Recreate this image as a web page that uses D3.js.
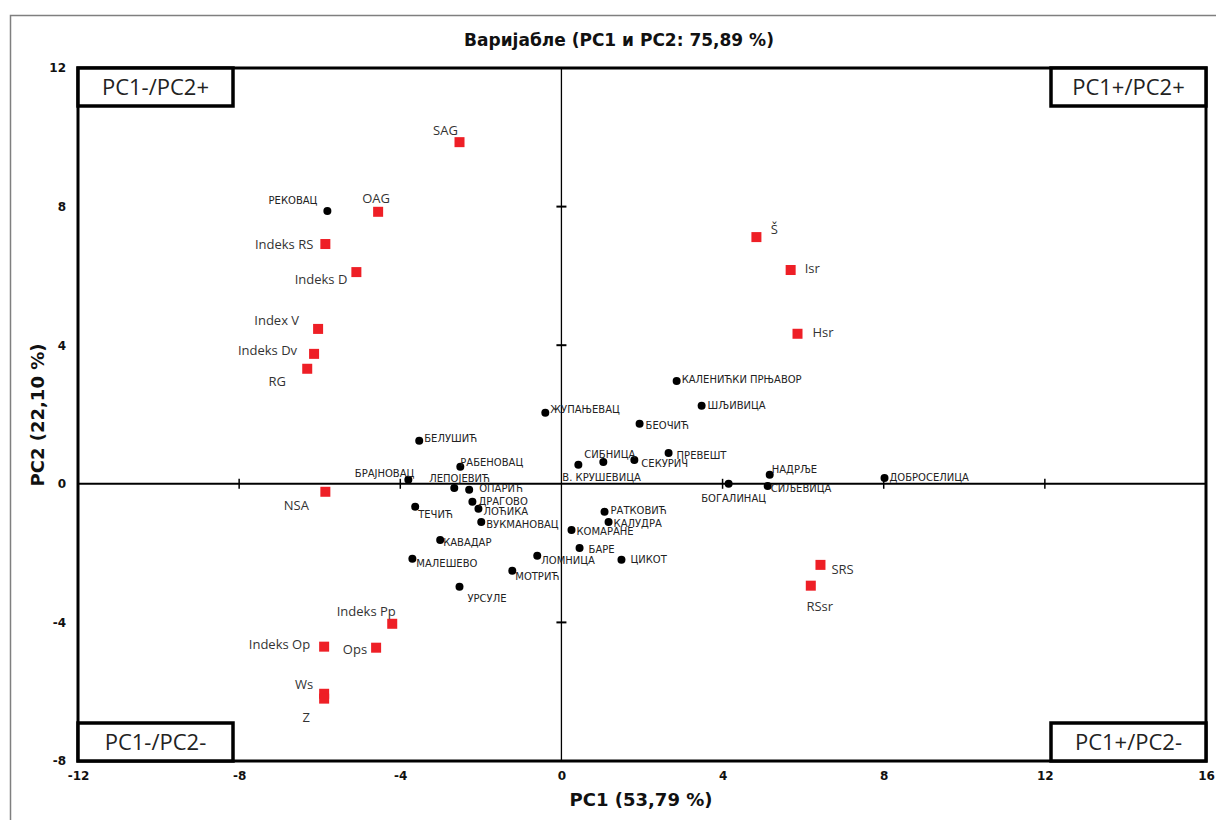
<!DOCTYPE html>
<html>
<head>
<meta charset="utf-8">
<script src="https://cdn.jsdelivr.net/npm/d3@7"></script>
<style>
  body { margin: 0; background: #fff; }
  svg { display: block; }
</style>
</head>
<body>
<div id="chart"></div>
<script>
// villages (black dots)
var villageNames = ["РЕКОВАЦ", "ЖУПАЊЕВАЦ", "БЕЛУШИЋ", "РАБЕНОВАЦ", "БРАЈНОВАЦ", "ЛЕПОЈЕВИЋ",
  "ОПАРИЋ", "ДРАГОВО", "ЛОЋИКА", "ТЕЧИЋ", "ВУКМАНОВАЦ", "КАВАДАР", "МАЛЕШЕВО", "ЛОМНИЦА",
  "МОТРИЋ", "УРСУЛЕ", "КОМАРАНЕ", "БАРЕ", "ЦИКОТ", "РАТКОВИЋ", "КАЛУДРА", "В. КРУШЕВИЦА",
  "СИБНИЦА", "СЕКУРИЧ", "ПРЕВЕШТ", "БЕОЧИЋ", "КАЛЕНИЋКИ ПРЊАВОР", "ШЉИВИЦА", "БОГАЛИНАЦ",
  "НАДРЉЕ", "СИЉЕВИЦА", "ДОБРОСЕЛИЦА"];
var villagePC1 = [-5.81, -0.40, -3.53, -2.51, -3.80, -2.66, -2.29, -2.21, -2.06, -3.63, -1.99, -3.01,
  -3.70, -0.60, -1.22, -2.53, 0.25, 0.45, 1.49, 1.07, 1.17, 0.42, 1.04, 1.81, 2.66, 1.94, 2.86, 3.48,
  4.15, 5.17, 5.12, 8.02];
var villagePC2 = [7.87, 2.05, 1.24, 0.49, 0.12, -0.12, -0.17, -0.52, -0.72, -0.66, -1.10, -1.62,
  -2.16, -2.08, -2.51, -2.97, -1.33, -1.85, -2.19, -0.81, -1.10, 0.55, 0.63, 0.69, 0.89, 1.73, 2.97, 2.25,
  0.00, 0.26, -0.06, 0.17];

// variables (red squares)
var varNames = ["SAG", "OAG", "Indeks RS", "Indeks D", "Index V", "Indeks Dv", "RG", "NSA",
  "Indeks Pp", "Indeks Op", "Ops", "Ws", "Z", "Š", "Isr", "Hsr", "SRS", "RSsr"];
var varPC1 = [-2.53, -4.55, -5.86, -5.09, -6.04, -6.14, -6.31, -5.86, -4.20, -5.89, -4.60, -5.89, -5.89,
  4.84, 5.69, 5.86, 6.43, 6.19];
var varPC2 = [9.86, 7.85, 6.92, 6.11, 4.47, 3.75, 3.32, -0.23, -4.04, -4.70, -4.73, -6.06, -6.20,
  7.12, 6.17, 4.33, -2.34, -2.94];

var xTicks = [-12, -8, -4, 0, 4, 8, 12, 16];
var yTicks = [-8, -4, 0, 4, 8, 12];
var quadrants = ["PC1-/PC2+", "PC1+/PC2+", "PC1-/PC2-", "PC1+/PC2-"];

// label placement: [dx, dy, anchor]
var villageLabel = {
  "РЕКОВАЦ": [-10, -11, "end"], "ЖУПАЊЕВАЦ": [5, -3, "start"], "БЕЛУШИЋ": [5, -2, "start"],
  "РАБЕНОВАЦ": [0, -4, "start"], "БРАЈНОВАЦ": [6, -6, "end"], "ЛЕПОЈЕВИЋ": [-25, -10, "start"],
  "ОПАРИЋ": [10, -1, "start"], "ДРАГОВО": [6, 0, "start"], "ЛОЋИКА": [5, 3, "start"],
  "ТЕЧИЋ": [3, 8, "start"], "ВУКМАНОВАЦ": [5, 2, "start"], "КАВАДАР": [3, 2, "start"],
  "МАЛЕШЕВО": [4, 5, "start"], "ЛОМНИЦА": [4, 5, "start"], "МОТРИЋ": [3, 6, "start"],
  "УРСУЛЕ": [8, 12, "start"], "КОМАРАНЕ": [5, 2, "start"], "БАРЕ": [9, 1, "start"],
  "ЦИКОТ": [9, 0, "start"], "РАТКОВИЋ": [6, -1, "start"], "КАЛУДРА": [5, 1, "start"],
  "В. КРУШЕВИЦА": [-16, 13, "start"], "СИБНИЦА": [-19, -8, "start"], "СЕКУРИЧ": [7, 4, "start"],
  "ПРЕВЕШТ": [8, 2, "start"], "БЕОЧИЋ": [6, 2, "start"], "КАЛЕНИЋКИ ПРЊАВОР": [5, -1, "start"],
  "ШЉИВИЦА": [6, 0, "start"], "БОГАЛИНАЦ": [5, 15, "middle"], "НАДРЉЕ": [2, -5, "start"],
  "СИЉЕВИЦА": [3, 3, "start"], "ДОБРОСЕЛИЦА": [5, -1, "start"]
};
var varLabel = {
  "SAG": [-14, -12, "middle"], "OAG": [-2, -13, "middle"], "Indeks RS": [-12, 0, "end"],
  "Indeks D": [-9, 7, "end"], "Index V": [-19, -9, "end"], "Indeks Dv": [-17, -4, "end"],
  "RG": [-30, 13, "middle"], "NSA": [-29, 14, "middle"], "Indeks Pp": [-26, -12, "middle"],
  "Indeks Op": [-14, -2, "end"], "Ops": [-9, 2, "end"], "Ws": [-20, -9, "middle"],
  "Z": [-18, 19, "middle"], "Š": [18, -8, "middle"], "Isr": [14, -2, "start"],
  "Hsr": [15, -1, "start"], "SRS": [11, 4, "start"], "RSsr": [9, 21, "middle"]
};

var W = 1216, H = 820;
var svg = d3.select("#chart").append("svg").attr("width", W).attr("height", H);

// outer chart border
svg.append("rect")
  .attr("x", 10.5).attr("y", 15.5)
  .attr("width", W).attr("height", H)
  .attr("fill", "none").attr("stroke", "#7f7f7f").attr("stroke-width", 1.5);

var x = d3.scaleLinear().domain([-12, 16]).range([78, 1206]);
var y = d3.scaleLinear().domain([-8, 12]).range([761, 68]);

// tick labels (outside), plain hyphen for negatives
var fmt = function(d) { return String(d); };
var xAxis = svg.append("g").attr("transform", "translate(0," + y(-8) + ")")
  .call(d3.axisBottom(x).tickValues(xTicks).tickFormat(fmt).tickSize(0).tickPadding(10));
var yAxis = svg.append("g").attr("transform", "translate(" + x(-12) + ",0)")
  .call(d3.axisLeft(y).tickValues(yTicks).tickFormat(fmt).tickSize(0).tickPadding(12));
[xAxis, yAxis].forEach(function(a) {
  a.select(".domain").remove();
  a.selectAll("text")
    .attr("font-family", "DejaVu Sans, Verdana, sans-serif")
    .attr("font-weight", "bold").attr("font-size", "12px").attr("fill", "#111");
});

// centre cross lines
svg.append("line")
  .attr("x1", x(0)).attr("x2", x(0)).attr("y1", y(12)).attr("y2", y(-8))
  .attr("stroke", "#000").attr("stroke-width", 1.3);
svg.append("line")
  .attr("x1", x(-12)).attr("x2", x(16)).attr("y1", y(0)).attr("y2", y(0))
  .attr("stroke", "#000").attr("stroke-width", 2);

// cross ticks on centre lines
svg.selectAll(".xt").data(xTicks.filter(function(d) { return d !== 0 && d > -12 && d < 16; }))
  .enter().append("line")
  .attr("x1", function(d) { return x(d); }).attr("x2", function(d) { return x(d); })
  .attr("y1", y(0) - 5).attr("y2", y(0) + 5)
  .attr("stroke", "#000").attr("stroke-width", 1.5);
svg.selectAll(".yt").data(yTicks.filter(function(d) { return d !== 0 && d > -8 && d < 12; }))
  .enter().append("line")
  .attr("x1", x(0) - 5).attr("x2", x(0) + 5)
  .attr("y1", function(d) { return y(d); }).attr("y2", function(d) { return y(d); })
  .attr("stroke", "#000").attr("stroke-width", 2);

// plot frame
svg.append("rect")
  .attr("x", x(-12)).attr("y", y(12))
  .attr("width", x(16) - x(-12)).attr("height", y(-8) - y(12))
  .attr("fill", "none").attr("stroke", "#000").attr("stroke-width", 3);

// quadrant boxes
var qw = 155, qh = 38;
var qpos = [[x(-12), y(12)], [x(16) - qw, y(12)], [x(-12), y(-8) - qh], [x(16) - qw, y(-8) - qh]];
var qg = svg.selectAll(".quad").data(quadrants).enter().append("g")
  .attr("transform", function(d, i) { return "translate(" + qpos[i][0] + "," + qpos[i][1] + ")"; });
qg.append("rect")
  .attr("width", qw).attr("height", qh)
  .attr("fill", "#fff").attr("stroke", "#000").attr("stroke-width", 3.5);
qg.append("text")
  .attr("x", qw / 2).attr("y", qh / 2).attr("dy", "0.36em")
  .attr("text-anchor", "middle")
  .attr("font-family", "Open Sans, sans-serif").attr("font-size", "22px").attr("fill", "#222")
  .text(function(d) { return d; });

// villages
var villages = villageNames.map(function(n, i) { return { name: n, x: villagePC1[i], y: villagePC2[i] }; });
svg.selectAll(".vdot").data(villages).enter().append("circle")
  .attr("cx", function(d) { return x(d.x); }).attr("cy", function(d) { return y(d.y); })
  .attr("r", 4).attr("fill", "#000");
svg.selectAll(".vlab").data(villages).enter().append("text")
  .attr("x", function(d) { return x(d.x) + villageLabel[d.name][0]; })
  .attr("y", function(d) { return y(d.y) + villageLabel[d.name][1]; })
  .attr("dy", "0.36em")
  .attr("text-anchor", function(d) { return villageLabel[d.name][2]; })
  .attr("font-family", "DejaVu Sans, sans-serif").attr("font-size", "10px").attr("fill", "#222")
  .text(function(d) { return d.name; });

// variables
var vars = varNames.map(function(n, i) { return { name: n, x: varPC1[i], y: varPC2[i] }; });
svg.selectAll(".vsq").data(vars).enter().append("rect")
  .attr("x", function(d) { return x(d.x) - 5; }).attr("y", function(d) { return y(d.y) - 5; })
  .attr("width", 10).attr("height", 10).attr("fill", "#ee1f26");
svg.selectAll(".vslab").data(vars).enter().append("text")
  .attr("x", function(d) { return x(d.x) + varLabel[d.name][0]; })
  .attr("y", function(d) { return y(d.y) + varLabel[d.name][1]; })
  .attr("dy", "0.36em")
  .attr("text-anchor", function(d) { return varLabel[d.name][2]; })
  .attr("font-family", "Open Sans, sans-serif").attr("font-size", "13px").attr("fill", "#333")
  .text(function(d) { return d.name; });

// titles
svg.append("text")
  .attr("x", 619).attr("y", 40).attr("dy", "0.36em").attr("text-anchor", "middle")
  .attr("font-family", "DejaVu Sans, Verdana, sans-serif").attr("font-weight", "bold")
  .attr("font-size", "17px").attr("fill", "#111")
  .text("Варијабле (PC1 и PC2: 75,89 %)");
svg.append("text")
  .attr("x", 641).attr("y", 800).attr("dy", "0.36em").attr("text-anchor", "middle")
  .attr("font-family", "DejaVu Sans, Verdana, sans-serif").attr("font-weight", "bold")
  .attr("font-size", "18px").attr("fill", "#111")
  .text("PC1 (53,79 %)");
svg.append("text")
  .attr("transform", "translate(38,415) rotate(-90)")
  .attr("dy", "0.36em").attr("text-anchor", "middle")
  .attr("font-family", "DejaVu Sans, Verdana, sans-serif").attr("font-weight", "bold")
  .attr("font-size", "18px").attr("fill", "#111")
  .text("PC2 (22,10 %)");
</script>
</body>
</html>
